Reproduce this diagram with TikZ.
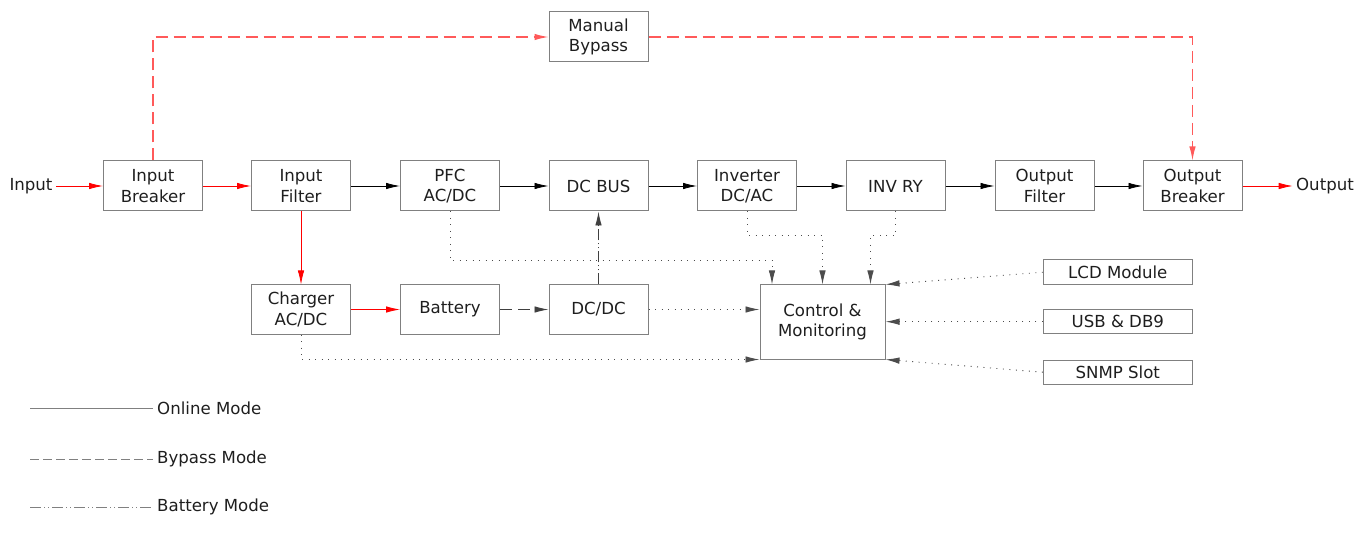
\documentclass[tikz,border=0pt]{standalone}
\usepackage{fontspec}
\setmainfont{DejaVu Sans}
\usetikzlibrary{arrows.meta,calc}
\definecolor{boxgray}{HTML}{808080}
\definecolor{txt}{HTML}{1E1E1E}
\definecolor{bypassred}{HTML}{FF5A5A}
\begin{document}
\begin{tikzpicture}[x=1pt,y=-1pt,
  font=\fontsize{16.6pt}{20.5pt}\selectfont, text=txt,
  blk/.style={draw=boxgray, line width=1pt, minimum width=99pt, minimum height=50pt, inner sep=0pt, align=center},
  sblk/.style={draw=boxgray, line width=1pt, minimum width=149pt, minimum height=25pt, inner sep=0pt, align=center},
  tip/.style={-{Latex[length=14pt,width=6.5pt]}},
  online/.style={tip, draw=black, line width=0.8pt},
  redline/.style={tip, draw=red, line width=0.8pt},
  bypassline/.style={tip, draw=bypassred, line width=1.2pt, dash pattern=on 12pt off 6pt},
  batdash/.style={tip, draw=black!75, line width=0.9pt, dash pattern=on 12pt off 6pt},
  battery/.style={tip, draw=black!75, line width=0.9pt, dash pattern=on 11pt off 3pt on 1pt off 3pt on 1pt off 3pt},
  ctl/.style={tip, draw=black!70, line width=0.9pt, dash pattern=on 1pt off 5.5pt},
  legendline/.style={draw=boxgray, line width=1pt}
]
\useasboundingbox (0,0) rectangle (1366,556);

% main row
\node (in) at (31,186) {Input};
\node[blk] (ib) at (153,186) {Input\\Breaker};
\node[blk] (if) at (301,186) {Input\\Filter};
\node[blk] (pfc) at (450,186) {PFC\\AC/DC};
\node[blk] (bus) at (598.5,186) {DC BUS};
\node[blk] (inv) at (747,186) {Inverter\\DC/AC};
\node[blk] (ry) at (895.5,186) {INV RY};
\node[blk] (of) at (1044.5,186) {Output\\Filter};
\node[blk] (ob) at (1192.5,186) {Output\\Breaker};
\node (out) at (1325,186) {Output};

% bypass
\node[blk] (mb) at (598.5,37) {Manual\\Bypass};

% lower row
\node[blk, minimum height=49pt] (chg) at (301,309.5) {Charger\\AC/DC};
\node[blk, minimum height=49pt] (bat) at (450,309.5) {Battery};
\node[blk, minimum height=49pt] (dcdc) at (598.5,309.5) {DC/DC};
\node[blk, minimum width=125pt, minimum height=74pt] (ctrl) at (822.5,322) {Control \&\\Monitoring};

% peripheral boxes
\node[sblk] (lcd) at (1117.8,272.2) {LCD Module};
\node[sblk, minimum height=24pt] (usb) at (1117.8,321.7) {USB \& DB9};
\node[sblk, minimum height=24pt] (snmp) at (1117.8,372.2) {SNMP Slot};

% power path
\draw[redline] (in.east) -- (ib.west);
\draw[redline] (ib.east) -- (if.west);
\draw[online] (if.east) -- (pfc.west);
\draw[online] (pfc.east) -- (bus.west);
\draw[online] (bus.east) -- (inv.west);
\draw[online] (inv.east) -- (ry.west);
\draw[online] (ry.east) -- (of.west);
\draw[online] (of.east) -- (ob.west);
\draw[redline] (ob.east) -- (out.west);

% bypass path
\draw[bypassline] (ib.north) |- (mb.west);
\draw[bypassline] (mb.east) -| (ob.north);

% charger / battery path
\draw[redline] (if.south) -- (chg.north);
\draw[redline] (chg.east) -- (bat.west);
\draw[batdash] (bat.east) -- (dcdc.west);
\draw[battery] (dcdc.north) -- (bus.south);

% control signals
\draw[ctl] (pfc.south) -- ++(0,49) -| ([xshift=-50.5pt]ctrl.north);
\draw[ctl] (inv.south) -- ++(0,24) -| (ctrl.north);
\draw[ctl] (ry.south) -- ++(0,24) -| ([xshift=48pt]ctrl.north);
\draw[ctl] (dcdc.east) -- (dcdc.east -| ctrl.west);
\draw[ctl] (chg.south) |- (ctrl.south west);
\draw[ctl] (lcd.west) -- (ctrl.north east);
\draw[ctl] (usb.west) -- (usb.west -| ctrl.east);
\draw[ctl] (snmp.west) -- (ctrl.south east);

% legend
\coordinate (l1a) at (30,408); \coordinate (l1b) at (153,408);
\coordinate (l2a) at (30,459); \coordinate (l2b) at (153,459);
\coordinate (l3a) at (30,507); \coordinate (l3b) at (153,507);
\draw[legendline] (l1a) -- (l1b);
\draw[legendline, dash pattern=on 9pt off 4pt] (l2a) -- (l2b);
\draw[legendline, dash pattern=on 11pt off 3pt on 1pt off 3pt on 1pt off 3pt] (l3a) -- (l3b);
\node[anchor=west, inner sep=0pt] (t1) at (157,408) {Online Mode};
\node[anchor=west, inner sep=0pt] (t2) at (157,459) {Bypass Mode};
\node[anchor=west, inner sep=0pt] (t3) at (157,507) {Battery Mode};
\end{tikzpicture}
\end{document}
